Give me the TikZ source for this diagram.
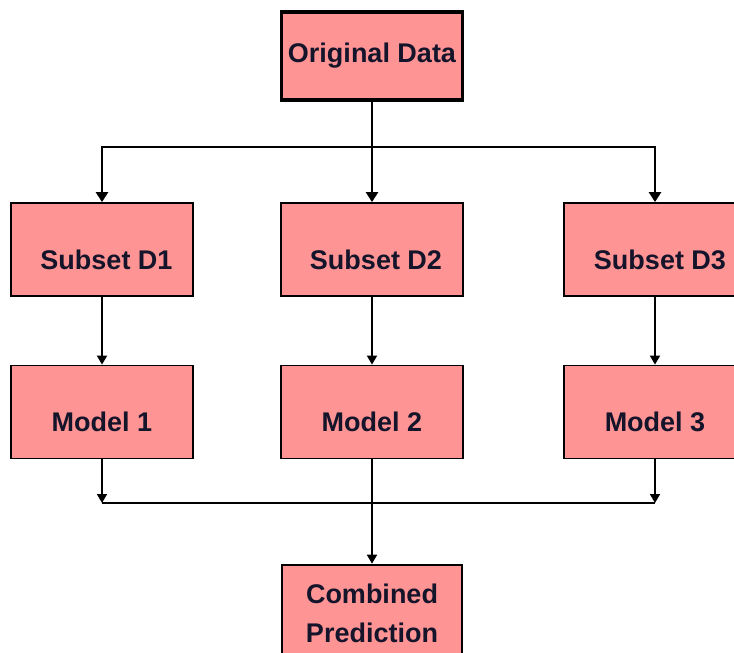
\documentclass[tikz,border=0pt]{standalone}
\usepackage{fontspec}
\setmainfont{Liberation Sans}
\usetikzlibrary{arrows.meta,positioning,calc}
\definecolor{boxpink}{HTML}{FF9494}
\definecolor{txtnavy}{HTML}{14142A}

\begin{document}
\begin{tikzpicture}[x=1pt, y=-1pt,
  box/.style={draw=black, line width=1.8pt, fill=boxpink, minimum width=182pt,
              minimum height=93pt, inner sep=0pt, align=center, text=txtnavy,
              font=\bfseries\fontsize{27}{39}\selectfont},
  low/.style={box, execute at begin node={\rule{0pt}{40pt}}},
  thickbox/.style={box, line width=3.2pt},
  trunk/.style={line width=2.8pt, -{Triangle[length=10pt,width=12pt]}},
  twig/.style={line width=1.8pt, -{Triangle[length=9pt,width=10pt]}},
]

%% ---- Marco: la imagen esta recortada a la derecha y abajo ----
\useasboundingbox (0,0) rectangle (734,653);
\clip (0,0) rectangle (734,653);

%% ---- Datos originales ----
\node[thickbox, minimum width=181pt, minimum height=88pt] at (372,56) (orig) {Original Data};

%% ---- Subconjuntos ----
\node[low] at (102,249.5) (sub1) {\hspace{9pt}Subset D1};
\node[low] at (372,249.5) (sub2) {\hspace{8pt}Subset D2};
\node[low] at (655,249.5) (sub3) {\hspace{10pt}Subset D3};

%% ---- Modelos ----
\node[low] at (102,412) (mod1) {Model 1};
\node[low] at (372,412) (mod2) {Model 2};
\node[low] at (655,412) (mod3) {Model 3};

%% ---- Prediccion combinada ----
\node[thickbox, line width=2.6pt, minimum width=180pt, minimum height=100pt] at (372,615) (comb)
  {Combined\\Prediction\rule[-4pt]{0pt}{4pt}};

%% ---- Reparto de datos ----
\coordinate (split) at (372,147);
\draw[line width=2.8pt] (orig.south) -- (split);
\draw[trunk] (split) -| (sub1.north);
\draw[trunk] (split) -- (sub2.north);
\draw[trunk] (split) -| (sub3.north);

%% ---- Entrenamiento ----
\draw[twig] (sub1) -- (mod1);
\draw[twig] (sub2) -- (mod2);
\draw[twig] (sub3) -- (mod3);

%% ---- Combinacion ----
\coordinate (join) at (372,503);
\draw[twig] (mod1.south) -- (mod1.south |- join);
\draw[twig] (mod3.south) -- (mod3.south |- join);
\draw[line width=1.8pt] (mod1.south |- join) -- (mod3.south |- join);
\draw[twig] (mod2.south) -- (comb.north);

\end{tikzpicture}
\end{document}
